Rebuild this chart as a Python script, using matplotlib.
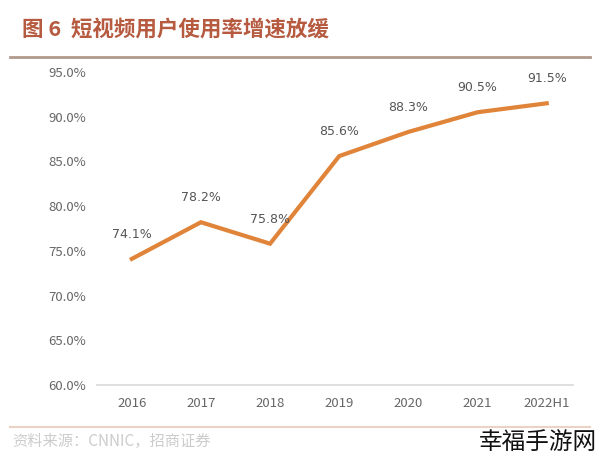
import matplotlib.pyplot as plt
from matplotlib.lines import Line2D

plt.rcParams['font.family'] = ['Noto Sans CJK SC', 'DejaVu Sans']

# 数据
years = ['2016', '2017', '2018', '2019', '2020', '2021', '2022H1']
usage = [74.1, 78.2, 75.8, 85.6, 88.3, 90.5, 91.5]
yticks = [60, 65, 70, 75, 80, 85, 90, 95]

fig = plt.figure(figsize=(6, 4.63), dpi=100)
ax = fig.add_axes([0.162, 0.1685, 0.793, 0.676])

x = list(range(len(years)))
ax.plot(x, usage, color='#e0843a', lw=3, solid_joinstyle='miter')
for xi, v in zip(x, usage):
    ax.annotate('{:.1f}%'.format(v), (xi, v), xytext=(0, 13), textcoords='offset points',
                ha='center', va='bottom', fontsize=9, color='#555555', family='DejaVu Sans')

ax.set_xlim(-0.5, 6.38)
ax.set_ylim(60, 95)
ax.set_xticks(x)
ax.set_xticklabels(years)
ax.set_yticks(yticks)
ax.set_yticklabels(['{:.1f}%'.format(t) for t in yticks])
ax.tick_params(length=0, labelsize=9.5, labelcolor='#666666', pad=8)
ax.tick_params(axis='x', pad=9)
for s in ['top', 'right', 'left']:
    ax.spines[s].set_visible(False)
ax.spines['bottom'].set_color('#d9d9d9')
ax.spines['bottom'].set_linewidth(1.2)

# 标题和装饰线
fig.text(0.037, 0.938, '图 6  短视频用户使用率增速放缓', fontsize=15.5, fontweight='bold',
         color='#b65a40', va='center')
fig.add_artist(Line2D([0.017, 0.983], [0.877, 0.877], color='#b09a8c', lw=2))
fig.add_artist(Line2D([0.017, 0.983], [0.078, 0.078], color='#ecd2c4', lw=1.5))
fig.text(0.02, 0.047, '资料来源：CNNIC，招商证券', fontsize=11, color='#cccccc', va='center')
fig.text(0.995, 0.045, '幸福手游网', fontsize=17, color='#111111', va='center', ha='right',
         fontweight='light')

fig.savefig('out.png', dpi=100)
